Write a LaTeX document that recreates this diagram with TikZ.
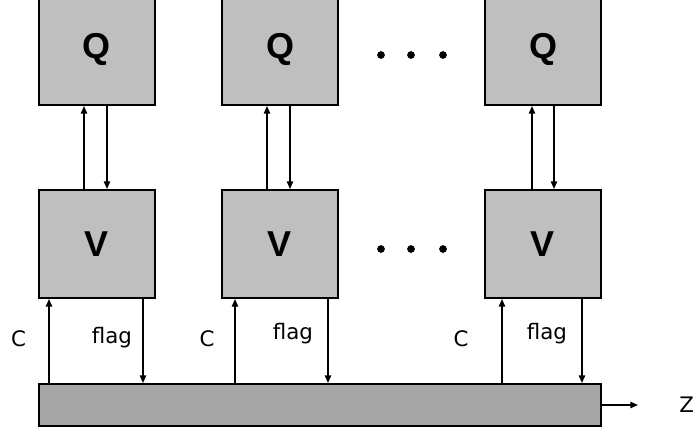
\documentclass[tikz,border=0pt]{standalone}
\usepackage{fontspec}
\setmainfont{DejaVu Sans}
\newfontfamily\blkfont{Liberation Sans}
\usetikzlibrary{arrows.meta,calc}
\definecolor{boxgray}{HTML}{BFBFBF}
\definecolor{bargray}{HTML}{A6A6A6}
\begin{document}
\begin{tikzpicture}[x=0.75pt,y=-0.75pt,
  blk/.style={draw=black,line width=1.5pt,fill=boxgray,minimum width=87pt,inner sep=0pt,
    font=\blkfont\bfseries\fontsize{27}{27}\selectfont},
  qbox/.style={blk,minimum height=83.25pt},
  vbox/.style={blk,minimum height=81pt},
  barbox/.style={draw=black,line width=1.5pt,fill=bargray,minimum width=421.5pt,minimum height=31.5pt,inner sep=0pt},
  arr/.style={line width=1.1pt,-{Triangle[length=5.8pt,width=4.8pt]}},
  lbl/.style={font=\fontsize{16}{16}\selectfont,inner sep=0pt},
  dot/.style={fill=black,circle,inner sep=0pt,minimum size=5.8pt}]
\useasboundingbox (0,0) rectangle (693,432);
\clip (0,0) rectangle (693,432);
% boxes
\node[qbox] (Q1) at (97,49.5) {Q};
\node[qbox] (Q2) at (280,49.5) {Q};
\node[qbox] (Q3) at (543,49.5) {Q};
\node[vbox] (V1) at (97,244) {V};
\node[vbox] (V2) at (280,244) {V};
\node[vbox] (V3) at (543,244) {V};
\node[barbox] (bar) at (320,405) {};
% dots
\node[dot] (d1) at (381,55) {};
\node[dot] (d2) at (411,55) {};
\node[dot] (d3) at (443,55) {};
\node[dot] (d4) at (381,249) {};
\node[dot] (d5) at (411,249) {};
\node[dot] (d6) at (443,249) {};
% Q <-> V arrows
\draw[arr] ([xshift=-9.75pt]V1.north) -- ([xshift=-9.75pt]Q1.south);
\draw[arr] ([xshift=7.5pt]Q1.south) -- ([xshift=7.5pt]V1.north);
\draw[arr] ([xshift=-9.75pt]V2.north) -- ([xshift=-9.75pt]Q2.south);
\draw[arr] ([xshift=7.5pt]Q2.south) -- ([xshift=7.5pt]V2.north);
\draw[arr] ([xshift=-8.25pt]V3.north) -- ([xshift=-8.25pt]Q3.south);
\draw[arr] ([xshift=8.25pt]Q3.south) -- ([xshift=8.25pt]V3.north);
% C and flag arrows
\coordinate (c1) at ($(V1.south)+(-48,0)$);
\coordinate (f1) at ($(V1.south)+(46,0)$);
\coordinate (c2) at ($(V2.south)+(-45,0)$);
\coordinate (f2) at ($(V2.south)+(48,0)$);
\coordinate (c3) at ($(V3.south)+(-41,0)$);
\coordinate (f3) at ($(V3.south)+(39,0)$);
\draw[arr] (c1 |- bar.north) -- (c1);
\draw[arr] (f1) -- (f1 |- bar.north);
\draw[arr] (c2 |- bar.north) -- (c2);
\draw[arr] (f2) -- (f2 |- bar.north);
\draw[arr] (c3 |- bar.north) -- (c3);
\draw[arr] (f3) -- (f3 |- bar.north);
% labels
\node[lbl] (lc1) at (18.5,339) {C};
\node[lbl] (lf1) at (112,338) {flag};
\node[lbl] (lc2) at (207,339) {C};
\node[lbl] (lf2) at (293,334) {flag};
\node[lbl] (lc3) at (461,339) {C};
\node[lbl] (lf3) at (547,334) {flag};
% output
\coordinate (zend) at (638,405);
\draw[arr] (bar.east) -- (zend);
\node[lbl,anchor=west] (z) at (679,405) {Z};
\end{tikzpicture}
\end{document}
